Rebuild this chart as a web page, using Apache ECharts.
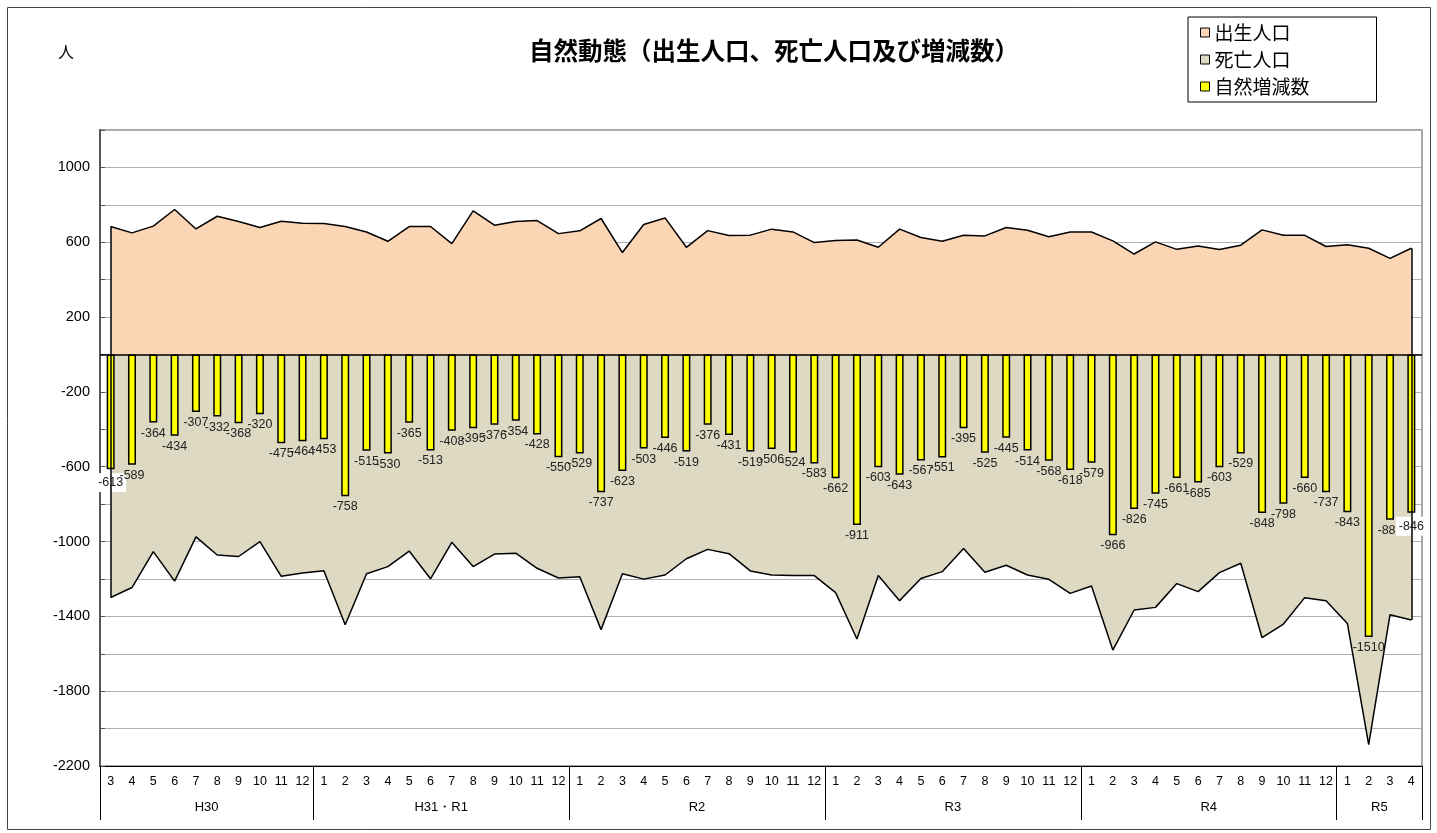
<!DOCTYPE html>
<html><head><meta charset="utf-8">
<script src="https://cdn.jsdelivr.net/npm/echarts@6/dist/echarts.min.js"></script>
<style>html,body{margin:0;padding:0;background:#fff}#c{width:1437px;height:833px}</style>
</head><body><div id="c"></div>
<script>
// ---- data ----
const months = ['3','4','5','6','7','8','9','10','11','12',
  '1','2','3','4','5','6','7','8','9','10','11','12',
  '1','2','3','4','5','6','7','8','9','10','11','12',
  '1','2','3','4','5','6','7','8','9','10','11','12',
  '1','2','3','4','5','6','7','8','9','10','11','12',
  '1','2','3','4'];
const yearGroups = ['H30','H31・R1','R2','R3','R4','R5'];
const groupSizes = [10,12,12,12,12,4];
const births = [684,650,686,775,671,739,711,679,712,702,
  700,684,655,605,684,684,593,768,691,711,716,646,
  661,727,545,695,730,573,662,636,638,670,655,598,
  609,612,573,670,625,605,637,634,679,664,629,655,
  655,607,537,602,562,580,561,584,666,637,637,577,
  587,568,514,568];
const deaths = [1299,1246,1054,1212,975,1072,1080,1000,1186,1168,
  1156,1445,1172,1134,1051,1199,1004,1134,1067,1062,1143,1195,
  1188,1471,1172,1201,1179,1092,1042,1065,1157,1179,1182,1182,
  1273,1521,1182,1316,1198,1161,1037,1164,1127,1179,1202,1277,
  1238,1580,1366,1352,1225,1268,1166,1116,1514,1441,1300,1316,
  1438,2086,1391,1420];
const naturalChange = [-613,-589,-364,-434,-307,-332,-368,-320,-475,-464,
  -453,-758,-515,-530,-365,-513,-408,-395,-376,-354,-428,-550,
  -529,-737,-623,-503,-446,-519,-376,-431,-519,-506,-524,-583,
  -662,-911,-603,-643,-567,-551,-395,-525,-445,-514,-568,-618,
  -579,-966,-826,-745,-661,-685,-603,-529,-848,-798,-660,-737,
  -843,-1510,-883,-846];
const yTickLabels = [1000,600,200,-200,-600,-1000,-1400,-1800,-2200];
const seriesNames = ['出生人口','死亡人口','自然増減数'];
const titleText = '自然動態（出生人口、死亡人口及び増減数）';
const unitText = '人';

// ---- derived ----
const groupBounds = [0];
groupSizes.forEach(s => groupBounds.push(groupBounds[groupBounds.length-1] + s));
const groupCenters = groupSizes.map((s,i) => groupBounds[i] + s/2);
const nCat = months.length;
const deathNeg = deaths.map(v => -v);
const FONT_JP = '"Noto Sans CJK JP", sans-serif';
const FONT_NUM = '"Liberation Sans", Arial, sans-serif';
const edgeStyle = {color:'#000', width:1.5, type:'solid'};
const SEP_LEN = 54;

const chart = echarts.init(document.getElementById('c'), null, {renderer:'canvas'});
chart.setOption({
  animation: false,
  backgroundColor: '#fff',
  title: {
    text: titleText, left: 524, top: 33,
    textStyle: {fontFamily: FONT_JP, fontSize: 24.5, fontWeight: 'bold', color: '#000'}
  },
  legend: {
    orient: 'vertical', left: 1188, top: 17,
    itemWidth: 9, itemHeight: 9, itemGap: 8,
    padding: [6, 67, 6, 12],
    borderColor: '#000', borderWidth: 1,
    icon: 'rect',
    textStyle: {fontFamily: FONT_JP, fontSize: 19, color: '#000'},
    data: [
      {name: seriesNames[0], itemStyle:{color:'#FCD5B4', borderColor:'#000', borderWidth:1}},
      {name: seriesNames[1], itemStyle:{color:'#DDD9C3', borderColor:'#000', borderWidth:1}},
      {name: seriesNames[2], itemStyle:{color:'#FFFF00', borderColor:'#000', borderWidth:1}}
    ]
  },
  grid: {left: 100, right: 15, top: 130, bottom: 67, show: true, borderColor: '#8a8a8a', borderWidth: 1.5, backgroundColor: 'transparent'},
  xAxis: [
    {
      type: 'category', data: months, position: 'bottom',
      axisLine: {onZero: false, lineStyle: {color: '#000', width: 1}},
      axisTick: {show: false},
      axisLabel: {interval: 0, fontFamily: FONT_NUM, fontSize: 12.5, color: '#000', margin: 9},
      splitLine: {show: false}
    },
    {
      type: 'value', min: 0, max: nCat, position: 'bottom',
      axisLine: {show: false},
      axisTick: {show: false},
      axisLabel: {customValues: groupCenters, margin: 35, fontFamily: FONT_NUM, fontSize: 13, color: '#000',
        formatter: v => { const i = groupCenters.indexOf(v); return i >= 0 ? yearGroups[i] : ''; }},
      splitLine: {show: false}
    },
    {
      type: 'category', data: months, position: 'bottom',
      axisLine: {show: false, onZero: false},
      axisTick: {show: true, length: SEP_LEN, interval: (i) => groupBounds.includes(i), lineStyle: {color: '#000', width: 1}},
      axisLabel: {show: false},
      splitLine: {show: false}
    }
  ],
  yAxis: {
    type: 'value', min: -2200, max: 1200, interval: 200,
    axisLine: {show: true, lineStyle: {color: '#555', width: 2}},
    axisTick: {show: true, inside: true, length: 5, lineStyle: {color: '#555'}},
    axisLabel: {formatter: v => yTickLabels.includes(v) ? String(v) : '', fontFamily: FONT_NUM, fontSize: 14.5, color: '#000', margin: 10},
    splitLine: {lineStyle: {color: '#b0b0b0', width: 1}}
  },
  series: [
    {
      name: seriesNames[0], type: 'line', data: births, symbol: 'none', z: 2,
      itemStyle: {color: '#FCD5B4'},
      lineStyle: {color: '#000', width: 1.5},
      areaStyle: {color: '#FCD5B4', opacity: 1},
      markLine: {silent: true, symbol: 'none', label: {show: false}, lineStyle: edgeStyle, animation: false,
        data: [[{coord: [0, 0]}, {coord: [0, births[0]]}], [{coord: [nCat-1, 0]}, {coord: [nCat-1, births[nCat-1]]}]]}
    },
    {
      name: seriesNames[1], type: 'line', data: deathNeg, symbol: 'none', z: 2,
      itemStyle: {color: '#DDD9C3'},
      lineStyle: {color: '#000', width: 1.5},
      areaStyle: {color: '#DDD9C3', opacity: 1},
      markLine: {silent: true, symbol: 'none', label: {show: false}, lineStyle: edgeStyle, animation: false,
        data: [[{coord: [0, 0]}, {coord: [0, deathNeg[0]]}], [{coord: [nCat-1, 0]}, {coord: [nCat-1, deathNeg[nCat-1]]}]]}
    },
    {
      name: seriesNames[2], type: 'bar', z: 3, barWidth: 8,
      data: naturalChange.map((v, i) => (i === 0 || i === nCat-1)
        ? {value: v, label: {backgroundColor: '#fff', padding: [3, 3]}}
        : v),
      itemStyle: {color: '#FFFF00', borderColor: '#000', borderWidth: 1.5},
      label: {show: true, position: 'bottom', distance: 4, fontFamily: FONT_NUM, fontSize: 12.5, color: '#222'},
      markLine: {silent: true, symbol: 'none', label: {show: false}, lineStyle: {color: '#000', width: 1.5, type: 'solid'}, animation: false,
        data: [{yAxis: 0}]}
    }
  ]
});

// frame, unit text and closing separator at the right end of the last year group (placed via the axis scale)
const endX = chart.convertToPixel({xAxisIndex: 1}, groupBounds[groupBounds.length-1]);
const baseY = chart.convertToPixel({yAxisIndex: 0}, -2200);
chart.setOption({graphic: [
  {type:'rect', shape:{x:7.5, y:7.5, width:1423, height:822}, style:{fill:'none', stroke:'#444', lineWidth:1}, z:-1},
  {type:'text', left: 58, top: 44, style:{text: unitText, font: '16px "Noto Sans CJK JP"', fill:'#000'}},
  {type:'line', shape:{x1: Math.round(endX)+0.5, y1: baseY, x2: Math.round(endX)+0.5, y2: baseY + SEP_LEN}, style:{stroke:'#000', lineWidth:1}}
]});
</script></body></html>
